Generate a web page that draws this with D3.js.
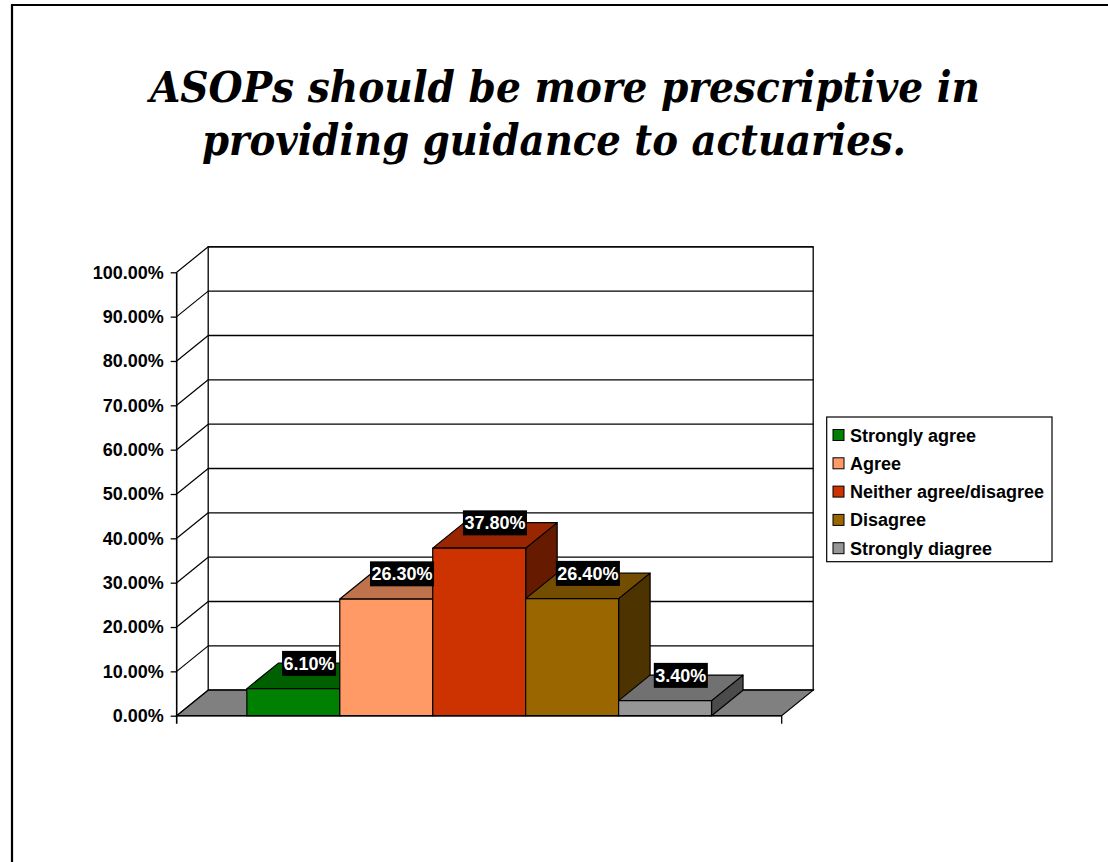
<!DOCTYPE html>
<html>
<head>
<meta charset="utf-8">
<script src="https://cdn.jsdelivr.net/npm/d3@7"></script>
<style>
  html, body { margin: 0; padding: 0; background: #fff; }
  svg { display: block; }
</style>
</head>
<body>
<svg id="chart" width="1108" height="862"></svg>
<script>
// Survey responses (percent of respondents)
const categories = ["Strongly agree", "Agree", "Neither agree/disagree", "Disagree", "Strongly diagree"];
const values = [6.1, 26.3, 37.8, 26.4, 3.4];
const frontColors = ["#008000", "#FF9966", "#CC3300", "#996600", "#969696"];
const yTickValues = [0, 10, 20, 30, 40, 50, 60, 70, 80, 90, 100];
const titleLines = ["ASOPs should be more prescriptive in", "providing guidance to actuaries."];

(function () {
const svg = d3.select("#chart");
const FONT = "'Liberation Sans', Arial, Helvetica, sans-serif";
const pct = d => d3.format(".2f")(d) + "%";

// 3-D plot geometry: front plane and depth offset of the back wall
const pLeft = 176.7, pRight = 781.7, pBottom = 715.7, pTop = 272.3;
const DX = 31.5, DY = -25.5;

const y = d3.scaleLinear().domain([0, 100]).range([pBottom, pTop]);
const x = d3.scaleBand().domain(categories).range([pLeft, pRight]).paddingInner(0).paddingOuter(0.755);

// Page frame
svg.append("path").attr("d", "M12,862 V5 H1108").attr("fill", "none").attr("stroke", "#000").attr("stroke-width", 2.2);

// Title
const title = svg.append("g")
  .attr("font-family", "'DejaVu Serif', 'Liberation Serif', serif")
  .attr("font-weight", "bold").attr("font-style", "italic").attr("font-size", 43);
title.append("text").attr("x", 150).attr("y", 102).attr("textLength", 830)
  .attr("lengthAdjust", "spacingAndGlyphs").text(titleLines[0]);
title.append("text").attr("x", 202).attr("y", 155).attr("textLength", 704)
  .attr("lengthAdjust", "spacingAndGlyphs").text(titleLines[1]);

const plot = svg.append("g");

// Back wall
plot.append("rect").attr("x", pLeft + DX).attr("y", pTop + DY)
  .attr("width", pRight - pLeft).attr("height", pBottom - pTop)
  .attr("fill", "#fff").attr("stroke", "#000").attr("stroke-width", 1.3);

// Gridlines on back wall and side wall
yTickValues.forEach(t => {
  plot.append("line").attr("x1", pLeft + DX).attr("x2", pRight + DX)
    .attr("y1", y(t) + DY).attr("y2", y(t) + DY).attr("stroke", "#000").attr("stroke-width", 1.3);
  plot.append("line").attr("x1", pLeft).attr("x2", pLeft + DX)
    .attr("y1", y(t)).attr("y2", y(t) + DY).attr("stroke", "#000").attr("stroke-width", 1.2);
});

// Floor
plot.append("path")
  .attr("d", `M${pLeft},${pBottom} L${pLeft + DX},${pBottom + DY} L${pRight + DX},${pBottom + DY} L${pRight},${pBottom} Z`)
  .attr("fill", "#808080").attr("stroke", "#000").attr("stroke-width", 1.2);

// Value axis
const yAxis = d3.axisLeft(y).tickValues(yTickValues).tickFormat(pct).tickSize(6).tickPadding(7);
const ax = plot.append("g").attr("transform", `translate(${pLeft},0)`).call(yAxis);
ax.select(".domain").attr("stroke", "#000").attr("stroke-width", 1.6).attr("d", `M0,${pTop}V${pBottom + 8}`);
ax.selectAll(".tick line").attr("stroke", "#000").attr("stroke-width", 1.3);
ax.selectAll(".tick text").attr("font-family", FONT).attr("font-weight", "bold")
  .attr("font-size", 18).attr("fill", "#000");

// Category axis line and end tick
plot.append("line").attr("x1", pLeft).attr("x2", pRight).attr("y1", pBottom).attr("y2", pBottom)
  .attr("stroke", "#000").attr("stroke-width", 1.6);
plot.append("line").attr("x1", pRight).attr("x2", pRight).attr("y1", pBottom).attr("y2", pBottom + 8)
  .attr("stroke", "#000").attr("stroke-width", 1.3);

// 3-D bars, drawn left to right so each bar hides its neighbour's side face
const shade = (c, k) => { const r = d3.rgb(c); return d3.rgb(r.r * k, r.g * k, r.b * k).formatHex(); };
categories.forEach((cat, i) => {
  const v = values[i];
  const x0 = x(cat), w = x.bandwidth(), x1 = x0 + w;
  const yt = y(v), y0 = y(0);
  const g = plot.append("g").attr("stroke", "#000").attr("stroke-width", 1.2).attr("stroke-linejoin", "round");
  g.append("path").attr("fill", shade(frontColors[i], 0.5))
    .attr("d", `M${x1},${yt} L${x1 + DX},${yt + DY} L${x1 + DX},${y0 + DY} L${x1},${y0} Z`);
  g.append("path").attr("fill", shade(frontColors[i], 0.75))
    .attr("d", `M${x0},${yt} L${x0 + DX},${yt + DY} L${x1 + DX},${yt + DY} L${x1},${yt} Z`);
  g.append("rect").attr("x", x0).attr("y", yt).attr("width", w).attr("height", y0 - yt)
    .attr("fill", frontColors[i]);
});

// Data labels: white text on black boxes above the middle of each bar top
categories.forEach((cat, i) => {
  const v = values[i];
  const cx = x(cat) + x.bandwidth() / 2 + DX / 2;
  const by = y(v) + DY / 2;
  const lg = plot.append("g");
  const box = lg.append("rect").attr("fill", "#000");
  const t = lg.append("text").attr("x", cx).attr("y", by - 6).attr("text-anchor", "middle")
    .attr("font-family", FONT).attr("font-weight", "bold").attr("font-size", 18)
    .attr("fill", "#fff").text(pct(v));
  const tw = t.node().getComputedTextLength();
  box.attr("x", cx - tw / 2 - 1.5).attr("y", by - 25).attr("width", tw + 3).attr("height", 25);
});

// Legend
const legend = svg.append("g");
legend.append("rect").attr("x", 826.7).attr("y", 417).attr("width", 225.3).attr("height", 144.7)
  .attr("fill", "#fff").attr("stroke", "#000").attr("stroke-width", 1.2);
categories.forEach((cat, i) => {
  const cy = 435 + i * 28.3;
  legend.append("rect").attr("x", 833).attr("y", cy - 5.5).attr("width", 11).attr("height", 11)
    .attr("fill", frontColors[i]).attr("stroke", "#000").attr("stroke-width", 1);
  legend.append("text").attr("x", 850).attr("y", cy + 6.5)
    .attr("font-family", FONT).attr("font-weight", "bold").attr("font-size", 18)
    .attr("fill", "#000").text(cat);
});
})();
</script>
</body>
</html>
